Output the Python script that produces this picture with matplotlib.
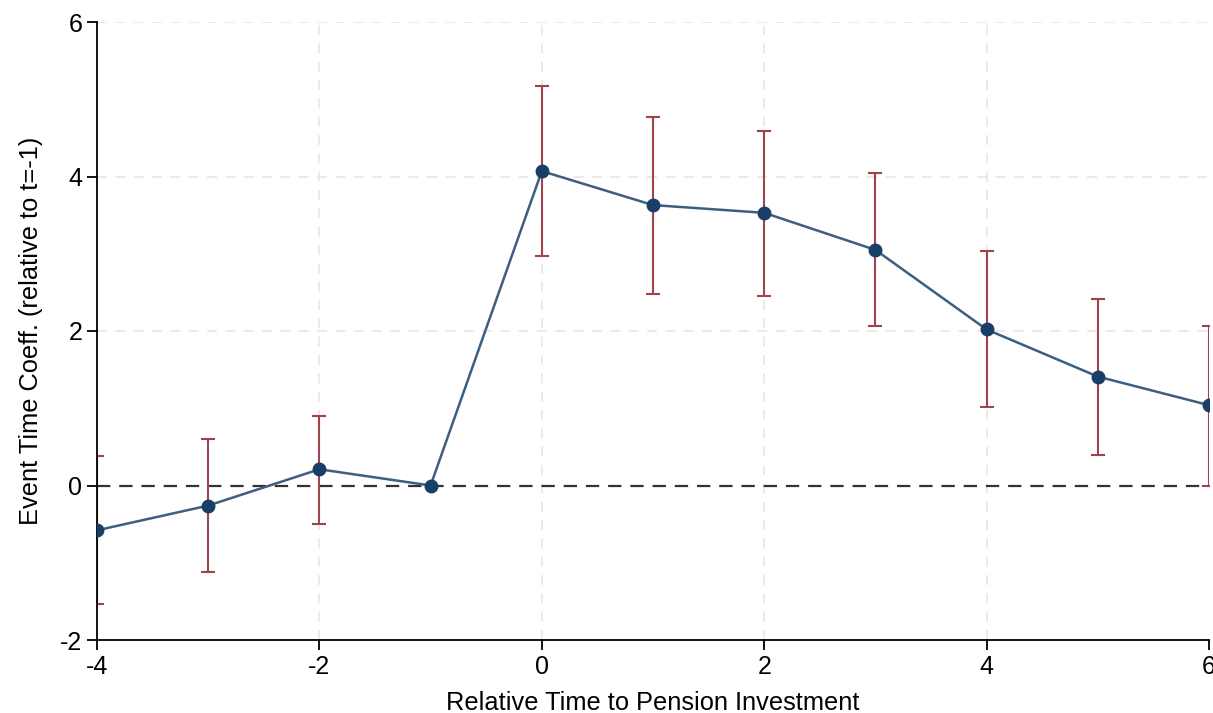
import matplotlib
matplotlib.use("Agg")
import matplotlib.pyplot as plt
import numpy as np

rel_time = [-4, -3, -2, -1, 0, 1, 2, 3, 4, 5, 6]
coef     = [-0.58, -0.26, 0.21, 0.0, 4.07, 3.63, 3.53, 3.05, 2.02, 1.41, 1.04]
ci_low   = [-1.53, -1.12, -0.50, 0.0, 2.97, 2.48, 2.45, 2.07, 1.02, 0.40, 0.00]
ci_high  = [0.38, 0.60, 0.90, 0.0, 5.17, 4.77, 4.59, 4.04, 3.03, 2.41, 2.07]

xticks = [-4, -2, 0, 2, 4, 6]
yticks = [-2, 0, 2, 4, 6]

plt.rcParams['font.family'] = ['Liberation Sans', 'DejaVu Sans']
plt.rcParams['axes.unicode_minus'] = False

fig = plt.figure(figsize=(12.13, 7.13), dpi=100)
ax = fig.add_axes([97/1213, 73/713, 1112/1213, 618/713])

ax.set_xlim(-4, 6)
ax.set_ylim(-2, 6)

# grid
for xv in [-2, 0, 2, 4]:
    ax.axvline(xv, color='#e6e6e6', lw=1.2, ls=(0, (6, 5)), zorder=0)
for yv in [2, 4, 6]:
    ax.axhline(yv, color='#e6e6e6', lw=1.2, ls=(0, (6, 5)), zorder=0)

ax.axhline(0, color='#333333', lw=1.6, ls=(0, (6, 4)), zorder=1)

x = np.array(rel_time)
c = np.array(coef)
lo = np.array(ci_low)
hi = np.array(ci_high)
mask = (hi - lo) > 0
ax.errorbar(x[mask], c[mask], yerr=[c[mask] - lo[mask], hi[mask] - c[mask]],
            fmt='none', ecolor='#a0434c', elinewidth=1.5, capsize=5, capthick=1.5, zorder=2)
ax.plot(x, c, color='#3c5f80', lw=1.8, zorder=3)
ax.plot(x, c, 'o', color='#1a3f66', ms=9, zorder=4)

ax.set_xticks(xticks)
ax.set_yticks(yticks)
ax.tick_params(direction='out', length=7.5, width=1.3, labelsize=18, colors='black', pad=3)
for s in ['top', 'right']:
    ax.spines[s].set_visible(False)
for s in ['left', 'bottom']:
    ax.spines[s].set_linewidth(1.3)

ax.set_xlabel('Relative Time to Pension Investment', fontsize=18.3, labelpad=9)
ax.set_ylabel('Event Time Coeff. (relative to t=-1)', fontsize=18.3, labelpad=12)

fig.savefig('out.png', dpi=100)
